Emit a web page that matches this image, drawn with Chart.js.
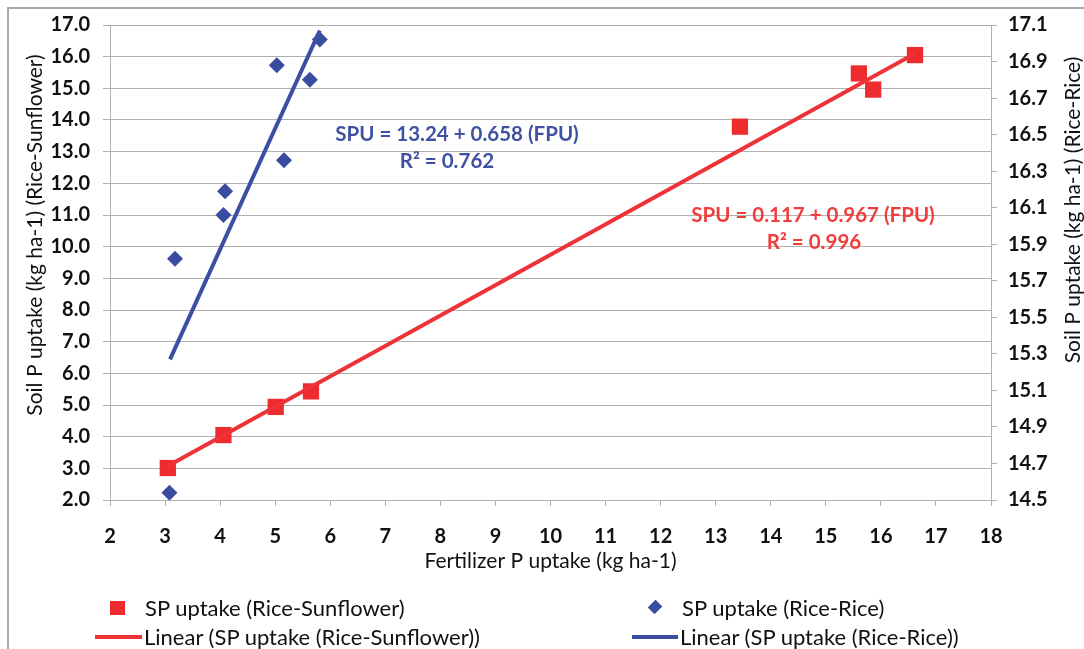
<!DOCTYPE html>
<html>
<head>
<meta charset="utf-8">
<script src="https://cdn.jsdelivr.net/npm/chart.js@4.4.1/dist/chart.umd.min.js"></script>
<style>
body { margin: 0; background: #fff; }
#wrap { position: relative; width: 1084px; height: 649px; font-family: Lato, sans-serif; overflow: hidden; }
#frame { position: absolute; left: 7px; top: 7px; width: 1100px; height: 700px; border: 2px solid #a8a8a8; }
canvas { position: absolute; left: 0; top: 0; }
.leg { position: absolute; font-size: 22px; color: #111; line-height: 24px; white-space: nowrap; }
.mk { position: absolute; }
</style>
</head>
<body>
<div id="wrap">
  <div id="frame"></div>
  <canvas id="chart" width="1084" height="649"></canvas>
  <div class="mk" style="left:110px;top:601px;width:15px;height:14px;background:#ee2b2e"></div>
  <div class="leg" style="left:145px;top:596px">SP uptake (Rice-Sunflower)</div>
  <div class="mk" style="left:95px;top:635px;width:47px;height:4px;background:#ee3338"></div>
  <div class="leg" style="left:144px;top:625px">Linear (SP uptake (Rice-Sunflower))</div>
  <div class="mk" style="left:650px;top:602px;width:10px;height:10px;background:#3a4ca0;transform:rotate(45deg) scale(0.95,1.1)"></div>
  <div class="leg" style="left:682px;top:596px">SP uptake (Rice-Rice)</div>
  <div class="mk" style="left:632px;top:635px;width:46px;height:4px;background:#3b4ea2"></div>
  <div class="leg" style="left:680px;top:625px">Linear (SP uptake (Rice-Rice))</div>
</div>
<script>
// values
const rsFpu = [3.05, 4.06, 5.01, 5.65, 13.44, 15.60, 15.86, 16.62];
const rsSpu = [3.01, 4.05, 4.94, 5.43, 13.79, 15.47, 14.96, 16.05];
const rrFpu = [3.08, 3.18, 4.06, 4.09, 5.16, 5.03, 5.63, 5.81];
const rrSpu = [14.54, 15.82, 16.06, 16.19, 16.36, 16.88, 16.80, 17.02];

// trend line ends
const rsTrendFpu = [3.05, 16.62];
const rsTrendSpu = [3.07, 16.10];
const rrTrendFpu = [3.09, 5.81];
const rrTrendSpu = [15.27, 17.07];

const red = '#ee2b2e';
const blue = '#3a4ca0';
const gridGrey = '#b0b0b0';

function pts(xs, ys) {
    return xs.map(function(x, i){ return {x: x, y: ys[i]}; });
}

//axis titles and regression text
const textPlugin = {
    id: 'texts',
    afterDraw: function(chart){
        const ctx = chart.ctx;
        ctx.save();
        ctx.textAlign = 'center';
        ctx.textBaseline = 'middle';
        ctx.fillStyle = '#111';
        ctx.font = '21px Lato';
        ctx.save();
        ctx.translate(35, 235);
        ctx.rotate(-Math.PI / 2);
        ctx.fillText('Soil P uptake (kg ha-1) (Rice-Sunflower)', 0, 0);
        ctx.restore();
        ctx.save();
        ctx.translate(1073, 210);
        ctx.rotate(-Math.PI / 2);
        ctx.fillText('Soil P uptake (kg ha-1) (Rice-Rice)', 0, 0);
        ctx.restore();

        ctx.font = 'bold 20.5px Lato';
        ctx.fillStyle = '#3f51a3';
        ctx.fillText('SPU = 13.24 + 0.658 (FPU)', 457, 134);
        ctx.fillText('R\u00b2 = 0.762', 447, 161);
        ctx.fillStyle = '#f23c3c';
        ctx.fillText('SPU = 0.117 + 0.967 (FPU)', 813, 215);
        ctx.fillText('R\u00b2 = 0.996', 814, 242);
        ctx.restore();
    }
};

const chart = document.querySelector('#chart').getContext('2d');

new Chart(chart, {
    type: 'scatter',
    data: {
        datasets: [
            {
                label: 'Linear (SP uptake (Rice-Sunflower))',
                data: pts(rsTrendFpu, rsTrendSpu),
                showLine: true,
                borderColor: '#ee3338',
                borderWidth: 4,
                pointRadius: 0,
                yAxisID: 'y'
            },
            {
                label: 'Linear (SP uptake (Rice-Rice))',
                data: pts(rrTrendFpu, rrTrendSpu),
                showLine: true,
                borderColor: '#3b4ea2',
                borderWidth: 4,
                pointRadius: 0,
                yAxisID: 'y2'
            },
            {
                label: 'SP uptake (Rice-Sunflower)',
                data: pts(rsFpu, rsSpu),
                pointStyle: 'rect',
                pointRadius: 11.5,
                backgroundColor: red,
                borderColor: red,
                borderWidth: 0,
                yAxisID: 'y'
            },
            {
                label: 'SP uptake (Rice-Rice)',
                data: pts(rrFpu, rrSpu),
                pointStyle: 'rectRot',
                pointRadius: 8,
                backgroundColor: blue,
                borderColor: blue,
                borderWidth: 0,
                yAxisID: 'y2'
            }
        ]
    },
    options: {
        responsive: false,
        animation: false,
        events: [],
        layout: { padding: { left: 0, right: 0, top: 24, bottom: 69 } },
        plugins: {
            legend: { display: false },
            tooltip: { enabled: false }
        },
        scales: {
            x: {
                type: 'linear',
                min: 2,
                max: 18,
                ticks: {
                    stepSize: 1,
                    padding: 19,
                    color: '#111',
                    font: { family: 'Lato', size: 20, weight: 'bold' }
                },
                grid: { drawOnChartArea: false, tickLength: 6, color: gridGrey },
                border: { color: gridGrey, width: 1 },
                title: {
                    display: true,
                    text: 'Fertilizer P uptake (kg ha-1)',
                    color: '#111',
                    font: { family: 'Lato', size: 21 },
                    padding: { top: 0, bottom: 6 }
                },
                afterFit: function(scale){ scale.height = 80; }
            },
            y: {
                position: 'left',
                min: 2,
                max: 17,
                ticks: {
                    stepSize: 1,
                    padding: 13,
                    color: '#111',
                    font: { family: 'Lato', size: 20, weight: 'bold' },
                    callback: function(v){ return v.toFixed(1); }
                },
                grid: { color: gridGrey, tickLength: 7 },
                border: { color: gridGrey, width: 1 },
                afterFit: function(scale){ scale.width = 110; }
            },
            y2: {
                position: 'right',
                min: 14.5,
                max: 17.1,
                ticks: {
                    stepSize: 0.2,
                    padding: 11,
                    color: '#111',
                    font: { family: 'Lato', size: 20, weight: 'bold' },
                    callback: function(v){ return v.toFixed(1); }
                },
                grid: { drawOnChartArea: false, color: gridGrey, tickLength: 6 },
                border: { color: gridGrey, width: 1 },
                afterFit: function(scale){ scale.width = 93; }
            }
        }
    },
    plugins: [textPlugin]
});
</script>
</body>
</html>
